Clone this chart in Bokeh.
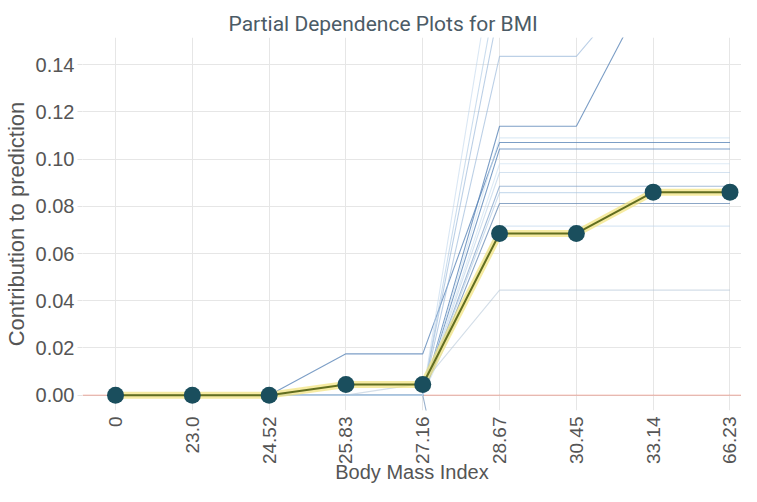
from bokeh.plotting import figure
from bokeh.models import FixedTicker, Range1d, PrintfTickFormatter, Title
from bokeh.embed import file_html
from bokeh.resources import INLINE

# ---- data ----
x_labels = ["0", "23.0", "24.52", "25.83", "27.16", "28.67", "30.45", "33.14", "66.23"]
pdp_values = [0.0, 0.0, 0.0, 0.0045, 0.0045, 0.0685, 0.0685, 0.086, 0.086]
y_ticks = [0.0, 0.02, 0.04, 0.06, 0.08, 0.10, 0.12, 0.14]

ice_lines = [
    [0, 0, 0, 0.0175, 0.0175, 0.107, 0.107, 0.107, 0.107],
    [0, 0, 0, 0, 0, 0.1043, 0.1043, 0.1043, 0.1043],
    [0, 0, 0, 0, 0, 0.1435, 0.1435, 0.182, 0.182],
    [0, 0, 0, 0, 0, 0.1139, 0.1139, 0.176, 0.176],
    [0, 0, 0, 0, 0, 0.178, 0.178, 0.178, 0.178],
    [0, 0, 0, 0, 0, 0.165, 0.165, 0.165, 0.165],
    [0, 0, 0, 0, 0, 0.200, 0.200, 0.200, 0.200],
    [0, 0, 0, 0, 0, 0.0943, 0.0943, 0.0943, 0.0943],
    [0, 0, 0, 0, 0, 0.0885, 0.0885, 0.0885, 0.0885],
    [0, 0, 0, 0, 0, 0.0858, 0.0858, 0.0858, 0.0858],
    [0, 0, 0, 0, 0, 0.0812, 0.0812, 0.0812, 0.0812],
    [0, 0, 0, 0, 0, 0.0716, 0.0716, 0.0716, 0.0716],
    [0, 0, 0, 0, 0.005, 0.0445, 0.0445, 0.0445, 0.0445],
    [0, 0, 0, 0, 0, -0.150, -0.150, -0.150, -0.150],
    [0, 0, 0, 0, 0, 0.098, 0.098, 0.098, 0.098],
    [0, 0, 0, 0, 0, 0.109, 0.109, 0.109, 0.109],
]
ice_colors = ["#5B86B8", "#5B86B8", "#8FB0D6", "#5B86B8", "#A9C6E3", "#8FB0D6",
              "#C2D7EC", "#B7CFE6", "#7D9FC8", "#A9C6E3", "#6F90B8", "#C2D7EC",
              "#B8C8D8", "#6F90B8", "#C8DDF0", "#C8DDF0"]
ice_alphas = [0.8, 0.8, 0.6, 0.8, 0.6, 0.6, 0.6, 0.6, 0.7, 0.6, 0.8, 0.6,
              0.6, 0.7, 0.6, 0.6]

x_idx = list(range(len(x_labels)))
x_lo, x_hi = -0.43, 8.15
y_lo, y_hi = -0.0065, 0.1515

p = figure(width=741, height=486, output_backend="svg", toolbar_location=None,
           x_range=Range1d(x_lo, x_hi), y_range=Range1d(y_lo, y_hi),
           min_border_left=72, min_border_right=0, min_border_top=30,
           min_border_bottom=74)

# thin empty spacer as the outermost title, real title below it
p.title.text = " "
p.title.text_font_size = "6px"
p.title.standoff = 0
p.add_layout(Title(text="Partial Dependence Plots for BMI", align="left", offset=146,
                   standoff=3, text_font="Roboto", text_font_size="21px",
                   text_font_style="normal", text_color="#4B5B66"), "above")

p.outline_line_color = None
p.background_fill_color = "white"

# zero reference line
p.line([x_lo, x_hi], [0, 0], line_color="#E75438", line_alpha=0.3, line_width=1.5)

# ICE lines
p.multi_line([x_idx] * len(ice_lines), ice_lines, line_color=ice_colors,
             line_alpha=ice_alphas, line_width=1.1)

# PDP line
p.line(x_idx, pdp_values, line_color="#F2E27A", line_alpha=0.7, line_width=7)
p.line(x_idx, pdp_values, line_color="#626E20", line_width=2)
p.scatter(x_idx, pdp_values, size=17, fill_color="#1A4E5D", line_color=None)

# axes
p.xaxis.ticker = FixedTicker(ticks=x_idx)
p.xaxis.major_label_overrides = {i: lab for i, lab in enumerate(x_labels)}
p.xaxis.major_label_orientation = 1.5708
p.xaxis.axis_label = "Body Mass Index"
p.yaxis.ticker = FixedTicker(ticks=y_ticks)
p.yaxis.formatter = PrintfTickFormatter(format="%.2f")
p.yaxis.axis_label = "Contribution to prediction"

for ax in (p.xaxis[0], p.yaxis[0]):
    ax.axis_line_color = None
    ax.major_tick_line_color = "#E3E3E3"
    ax.major_tick_in = 0
    ax.minor_tick_line_color = None
    ax.major_label_text_font = "Liberation Sans"
    ax.major_label_text_color = "#555555"
    ax.axis_label_text_font = "Liberation Sans"
    ax.axis_label_text_font_style = "normal"
    ax.axis_label_text_color = "#555555"

p.xaxis.major_tick_out = 0
p.xaxis.major_label_standoff = 6
p.xaxis.major_label_text_font_size = "19px"
p.xaxis.axis_label_text_font_size = "20px"
p.xaxis.axis_label_standoff = -6
p.yaxis.major_tick_out = 5
p.yaxis.major_label_standoff = 3
p.yaxis.major_label_text_font_size = "20px"
p.yaxis.axis_label_text_font_size = "22px"
p.yaxis.axis_label_standoff = 4

p.xgrid.ticker = FixedTicker(ticks=x_idx)
p.ygrid.ticker = FixedTicker(ticks=y_ticks)
p.grid.grid_line_color = "#E6E6E6"
p.grid.grid_line_width = 1

open("out.html", "w").write(file_html(p, INLINE))
